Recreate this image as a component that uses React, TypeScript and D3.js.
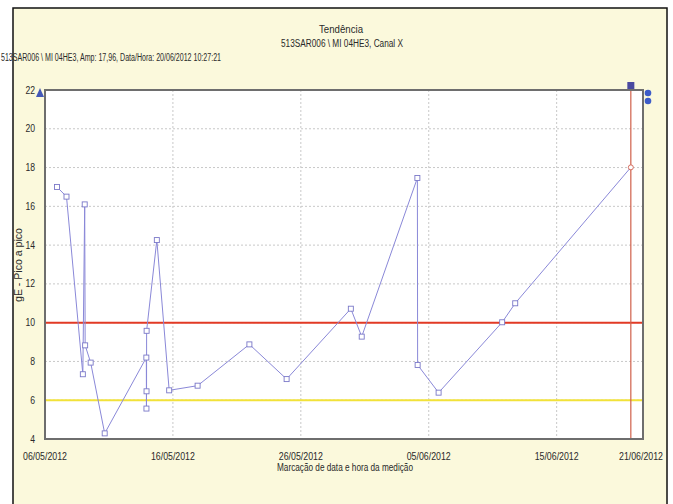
import React from 'react';
import * as d3 from 'd3';

// measurement series (date, gE pico a pico)
const dates = [
  '2012-05-06T22:30', '2012-05-07T16:20', '2012-05-08T23:00', '2012-05-09T02:30',
  '2012-05-09T03:20', '2012-05-09T13:40', '2012-05-10T16:00', '2012-05-13T22:10',
  '2012-05-13T22:20', '2012-05-13T22:30', '2012-05-13T22:40', '2012-05-14T17:50',
  '2012-05-15T17:00', '2012-05-17T22:20', '2012-05-21T23:30', '2012-05-24T21:20',
  '2012-05-29T21:50', '2012-05-30T18:15', '2012-06-04T02:40', '2012-06-04T03:10',
  '2012-06-05T18:30', '2012-06-10T17:45', '2012-06-11T18:15', '2012-06-20T19:10'
];
const values = [
  17.0, 16.5, 7.34, 16.1,
  8.83, 7.94, 4.29, 8.2,
  5.57, 6.46, 9.58, 14.26,
  6.51, 6.75, 8.88, 7.09,
  10.72, 9.28, 17.46, 7.82,
  6.39, 10.02, 11.0, 18.01
];

const alarmLevel = 10;
const alertLevel = 6;
const yTicks = [4, 6, 8, 10, 12, 14, 16, 18, 20, 22];
const xTicks = ['2012-05-06', '2012-05-16', '2012-05-26', '2012-06-05', '2012-06-15'];
const xStart = '2012-05-06T00:00';
const xEnd = '2012-06-21T18:00';
const endLabel = '21/06/2012';

const title = 'Tendência';
const subtitle = '513SAR006 \\ MI 04HE3, Canal X';
const info = '513SAR006 \\ MI 04HE3, Amp: 17,96, Data/Hora: 20/06/2012 10:27:21';
const yTitle = 'gE - Pico a pico';
const xTitle = 'Marcação de data e hora da medição';

const font = '"Liberation Sans", Arial, sans-serif';
const ink = '#2a2a2a';

export default function App() {
  const W = 673, H = 504;
  const left = 45, right = 643, top = 90, bottom = 439;

  const x = d3.scaleTime()
    .domain([new Date(xStart), new Date(xEnd)])
    .range([left, right]);
  const y = d3.scaleLinear().domain([4, 22]).range([bottom, top]);

  const pts = dates.map((d, i) => ({ t: new Date(d), v: values[i] }));
  const line = d3.line<any>().x(d => x(d.t)).y(d => y(d.v));
  const fmt = d3.timeFormat('%d/%m/%Y');
  const last = pts[pts.length - 1];
  const lastX = x(last.t);
  const squeeze = { lengthAdjust: 'spacingAndGlyphs' } as any;

  return (
    <svg width={W} height={H} style={{ position: 'absolute', left: 0, top: 0 }} fontFamily={font}>
      <rect x={0} y={0} width={W} height={H} fill="#ffffff" />
      <rect x={13} y={8} width={654} height={510} fill="#fbf9dc" stroke="#111" strokeWidth={1.5} />

      <text x={341} y={33} fontSize={10} textAnchor="middle" fill={ink} textLength={44} {...squeeze}>{title}</text>
      <text x={342} y={47} fontSize={10} textAnchor="middle" fill={ink} textLength={122} {...squeeze}>{subtitle}</text>
      <text x={1} y={61} fontSize={10} fill={ink} textLength={220} {...squeeze}>{info}</text>

      <rect x={left} y={top} width={right - left} height={bottom - top} fill="#fff" />

      {/* grid */}
      {yTicks.slice(1, -1).map(t => (
        <line key={'gy' + t} x1={left} x2={right} y1={y(t)} y2={y(t)}
          stroke="#c8c8c8" strokeDasharray="2,2" />
      ))}
      {xTicks.slice(1).map(t => (
        <line key={'gx' + t} x1={x(new Date(t + 'T00:00'))} x2={x(new Date(t + 'T00:00'))}
          y1={top} y2={bottom} stroke="#c8c8c8" strokeDasharray="2,2" />
      ))}

      {/* limits */}
      <line x1={left} x2={right} y1={y(alarmLevel)} y2={y(alarmLevel)} stroke="#e23a25" strokeWidth={2} />
      <line x1={left} x2={right} y1={y(alertLevel)} y2={y(alertLevel)} stroke="#f2e23a" strokeWidth={2} />

      {/* cursor */}
      <line x1={lastX} x2={lastX} y1={top - 4} y2={bottom} stroke="#d0604a" strokeWidth={1.2} />

      <path d={line(pts) || ''} fill="none" stroke="#8a88d8" strokeWidth={1} />
      {pts.slice(0, -1).map((p, i) => (
        <rect key={i} x={x(p.t) - 2.5} y={y(p.v) - 2.5} width={5} height={5}
          fill="#fff" stroke="#7a78c8" strokeWidth={0.9} />
      ))}
      <circle cx={lastX} cy={y(last.v)} r={2.5} fill="#fff" stroke="#d06050" strokeWidth={0.9} />

      {/* plot frame */}
      <rect x={left} y={top} width={right - left} height={bottom - top} fill="none" stroke="#6e6e6e" strokeWidth={2} />

      {/* markers */}
      <rect x={lastX - 3.5} y={top - 8} width={7} height={7} fill="#4a4aa0" />
      <path d={`M${left - 9},${top + 7} L${left - 5},${top - 2} L${left - 1},${top + 7} Z`} fill="#4458b8" />
      <circle cx={right + 5} cy={top + 3} r={3.3} fill="#3d5cc8" />
      <circle cx={right + 5} cy={top + 11} r={3.3} fill="#3d5cc8" />

      {/* y axis labels */}
      {yTicks.map(t => (
        <text key={'ty' + t} x={35} y={y(t) + 3.5} fontSize={10} textAnchor="end" fill={ink}
          textLength={String(t).length * 4.8} {...squeeze}>{t}</text>
      ))}
      <text transform={`translate(22,${265}) rotate(-90)`} fontSize={10} textAnchor="middle" fill={ink}
        textLength={74} {...squeeze}>{yTitle}</text>

      {/* x axis labels */}
      {xTicks.map(t => (
        <text key={'tx' + t} x={x(new Date(t + 'T00:00'))} y={460} fontSize={10} textAnchor="middle" fill={ink}
          textLength={44} {...squeeze}>
          {fmt(new Date(t + 'T00:00'))}
        </text>
      ))}
      <text x={641} y={460} fontSize={10} textAnchor="middle" fill={ink} textLength={44} {...squeeze}>{endLabel}</text>
      <text x={345} y={471} fontSize={10} textAnchor="middle" fill={ink} textLength={136} {...squeeze}>{xTitle}</text>
    </svg>
  );
}
